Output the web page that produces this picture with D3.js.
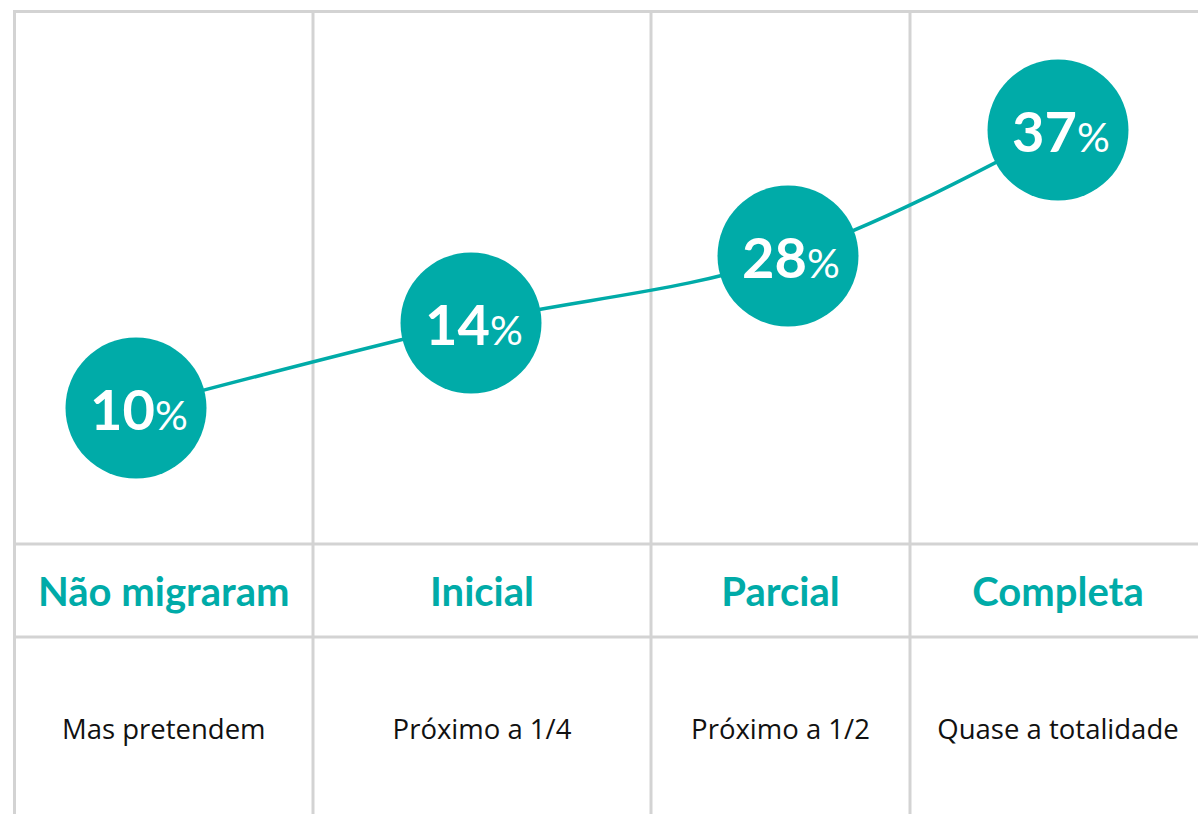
<!DOCTYPE html>
<html>
<head>
<meta charset="utf-8">
<script src="https://d3js.org/d3.v7.min.js"></script>
<style>
  body { margin: 0; padding: 0; background: #fff; }
  svg { display: block; }
</style>
</head>
<body>
<div id="chart"></div>
<script>
// Data
const categories = ['Não migraram', 'Inicial', 'Parcial', 'Completa'];
const subtitles = ['Mas pretendem', 'Próximo a 1/4', 'Próximo a 1/2', 'Quase a totalidade'];
const values = [10, 14, 28, 37];

const width = 1198, height = 814;
const teal = '#00aba8';
const grid = '#d3d3d3';

const svg = d3.select('#chart').append('svg')
    .attr('width', width)
    .attr('height', height);

// column layout (uneven widths, last column runs past the right edge)
const colEdges = [14.5, 313, 651, 910, 1206];
const colCenter = d3.scaleOrdinal().domain(categories)
    .range(categories.map((c, i) => (colEdges[i] + colEdges[i + 1]) / 2));

// bubble positions
const x = d3.scaleOrdinal().domain(categories).range([136, 471, 788, 1058]);
const y = d3.scaleLinear().domain(values).range([408, 323, 256, 130]);

// grid
const g = svg.append('g').attr('stroke', grid).attr('stroke-width', 3);
colEdges.slice(0, 4).forEach(cx => {
    g.append('line').attr('x1', cx).attr('x2', cx).attr('y1', 11.5).attr('y2', height);
});
[11.5, 544, 637].forEach(cy => {
    g.append('line').attr('x1', 13).attr('x2', width).attr('y1', cy).attr('y2', cy);
});

// connecting line
const line = d3.line()
    .x((d, i) => x(categories[i]))
    .y(d => y(d))
    .curve(d3.curveMonotoneX);

svg.append('path')
    .datum(values)
    .attr('fill', 'none')
    .attr('stroke', teal)
    .attr('stroke-width', 3.5)
    .attr('d', line);

// bubbles
const node = svg.selectAll('.node')
    .data(values)
    .enter()
    .append('g')
    .attr('class', 'node')
    .attr('transform', (d, i) => `translate(${x(categories[i])},${y(d)})`);

node.append('circle')
    .attr('r', 70.5)
    .attr('fill', teal);

const t = node.append('text')
    .attr('text-anchor', 'middle')
    .attr('x', 3)
    .attr('y', 22)
    .attr('fill', '#fff')
    .style('font-family', 'Lato, sans-serif');
t.append('tspan')
    .style('font-weight', 'bold')
    .style('font-size', '56px')
    .text(d => d);
t.append('tspan')
    .style('font-size', '41px')
    .text('%');

// category labels
svg.selectAll('.cat')
    .data(categories)
    .enter()
    .append('text')
    .attr('class', 'cat')
    .attr('x', d => colCenter(d))
    .attr('y', 606)
    .attr('text-anchor', 'middle')
    .attr('fill', teal)
    .style('font-family', 'Lato, sans-serif')
    .style('font-weight', 'bold')
    .style('font-size', '40px')
    .text(d => d);

// subtitles
svg.selectAll('.sub')
    .data(subtitles)
    .enter()
    .append('text')
    .attr('class', 'sub')
    .attr('x', (d, i) => colCenter(categories[i]))
    .attr('y', 739)
    .attr('text-anchor', 'middle')
    .attr('fill', '#111')
    .style('font-family', '"Open Sans", sans-serif')
    .style('font-size', '27.5px')
    .text(d => d);
</script>
</body>
</html>
